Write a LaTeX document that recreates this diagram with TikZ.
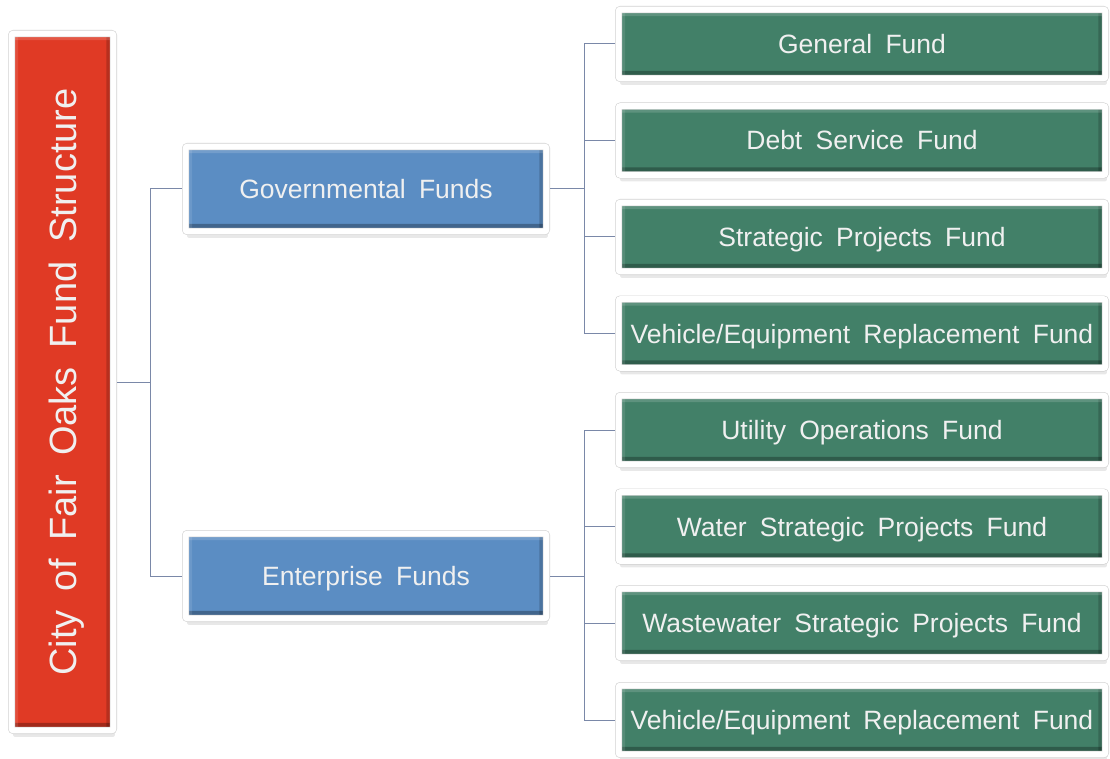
\documentclass[tikz,border=0pt]{standalone}
\usepackage{fontspec}
\setmainfont{Liberation Sans}[WordSpace=1.8]
\usetikzlibrary{shadows}

\definecolor{cityred}{RGB}{224,58,37}
\definecolor{typeblue}{RGB}{91,141,195}
\definecolor{fundgreen}{RGB}{66,128,104}
\definecolor{linkgray}{RGB}{122,136,168}

\begin{document}
\begin{tikzpicture}[x=1pt, y=-1pt,
    box/.style={rectangle, draw=black!18, line width=.6pt, double=white,
        double distance=6pt, rounded corners=2pt, outer sep=3.6pt,
        inner sep=0pt, text=white!94!black,
        drop shadow={shadow xshift=1.5pt, shadow yshift=-6.5pt, opacity=.18},
        % bevel: dark bottom/right, light top/left
        path picture={
            \fill[black, opacity=.28] (path picture bounding box.south west)
                rectangle ([yshift=7.5pt]path picture bounding box.south east);
            \fill[black, opacity=.18] ([xshift=-7pt]path picture bounding box.north east)
                rectangle (path picture bounding box.south east);
            \fill[white, opacity=.15] (path picture bounding box.north west)
                rectangle ([yshift=-6.5pt]path picture bounding box.north east);
            \fill[white, opacity=.10] (path picture bounding box.north west)
                rectangle ([xshift=6.5pt]path picture bounding box.south west);
        }},
    label text/.style={font=\fontsize{26.5}{30}\selectfont,
        text height=19pt, text depth=0pt},
    typebox/.style={box, label text, fill=typeblue,
        minimum width=360.8pt, minimum height=84.8pt},
    fundbox/.style={box, label text, fill=fundgreen,
        minimum width=486.8pt, minimum height=68.8pt},
    link/.style={draw=linkgray, line width=1pt}]

    \useasboundingbox (0,0) rectangle (1110,759);

    \node[box, fill=cityred, minimum width=101.8pt, minimum height=696.8pt,
        font=\fontsize{38}{44}\selectfont] (city) at (62.5,382)
        {\rotatebox{90}{\raisebox{0pt}[27pt][0pt]{City of Fair Oaks Fund Structure}}};

    \node[typebox] (gov) at (366,189) {Governmental Funds};
    \node[typebox] (ent) at (366,576) {Enterprise Funds};

    \node[fundbox] (general)   at (862,44)    {General Fund};
    \node[fundbox] (debt)      at (862,140.5) {Debt Service Fund};
    \node[fundbox] (strategic) at (862,237)   {Strategic Projects Fund};
    \node[fundbox] (vehgov)    at (862,333.5) {Vehicle/Equipment Replacement Fund};
    \node[fundbox] (utility)   at (862,430)   {Utility Operations Fund};
    \node[fundbox] (water)     at (862,526.5) {Water Strategic Projects Fund};
    \node[fundbox] (waste)     at (862,623)   {Wastewater Strategic Projects Fund};
    \node[fundbox] (vehent)    at (862,720)   {Vehicle/Equipment Replacement Fund};

    \foreach \t in {gov,ent}
        \draw[link] (city.east) -- ++(33,0) |- (\t.west);
    \foreach \f in {general,debt,strategic,vehgov}
        \draw[link] (gov.east) -- ++(34,0) |- (\f.west);
    \foreach \f in {utility,water,waste,vehent}
        \draw[link] (ent.east) -- ++(34,0) |- (\f.west);

\end{tikzpicture}
\end{document}
